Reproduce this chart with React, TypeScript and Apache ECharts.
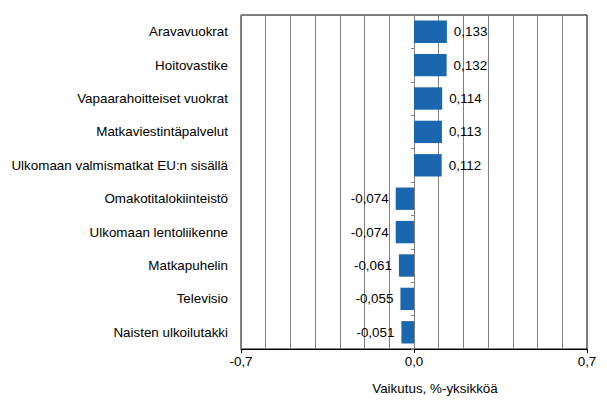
import React, { useEffect, useRef } from "react";
import * as echarts from "echarts";

const categories = [
  "Aravavuokrat",
  "Hoitovastike",
  "Vapaarahoitteiset vuokrat",
  "Matkaviestintäpalvelut",
  "Ulkomaan valmismatkat EU:n sisällä",
  "Omakotitalokiinteistö",
  "Ulkomaan lentoliikenne",
  "Matkapuhelin",
  "Televisio",
  "Naisten ulkoilutakki",
];
const values = [0.133, 0.132, 0.114, 0.113, 0.112, -0.074, -0.074, -0.061, -0.055, -0.051];
const axisMin = -0.7;
const axisMax = 0.7;
const axisTitle = "Vaikutus, %-yksikköä";

const fmt = (v: number, d: number) => v.toFixed(d).replace(".", ",");

export default function App() {
  const ref = useRef<HTMLDivElement>(null);
  useEffect(() => {
    if (!ref.current) return;
    const chart = echarts.init(ref.current, null, { renderer: "svg" });
    const font = { fontFamily: "Arial, 'Liberation Sans', sans-serif", fontSize: 13.4, color: "#000" };
    chart.setOption({
      animation: false,
      grid: { left: 241, right: 20, top: 15, bottom: 69, show: true, borderColor: "#000", borderWidth: 1, backgroundColor: "transparent" },
      xAxis: [
        {
          type: "value",
          min: axisMin,
          max: axisMax,
          interval: 0.1,
          axisLine: { show: false },
          axisTick: { show: false },
          axisLabel: { show: false },
          splitLine: { show: true, lineStyle: { color: "#808080", width: 1 } },
        },
        {
          type: "value",
          min: axisMin,
          max: axisMax,
          interval: 0.7,
          position: "bottom",
          axisLine: { show: true, onZero: false, lineStyle: { color: "#000" } },
          axisTick: { show: true, length: 4, lineStyle: { color: "#000" } },
          axisLabel: { ...font, margin: 6, formatter: (v: number) => fmt(v, 1) },
          splitLine: { show: false },
          name: axisTitle,
          nameLocation: "middle",
          nameGap: 33,
          nameTextStyle: { ...font, padding: [0, 0, 0, 42] },
        },
      ],
      yAxis: [
        {
          type: "category",
          data: categories,
          inverse: true,
          axisLine: { show: false, onZero: false },
          axisTick: { show: false },
          axisLabel: { ...font, margin: 13 },
          splitLine: { show: false },
        },
        {
          type: "category",
          data: categories,
          inverse: true,
          position: "left",
          axisLine: { show: true, onZero: true, onZeroAxisIndex: 0, lineStyle: { color: "#808080" } },
          axisTick: { show: true, length: 3, lineStyle: { color: "#808080" } },
          axisLabel: { show: false },
          splitLine: { show: false },
        },
      ],
      series: [
        {
          type: "bar",
          xAxisIndex: 0,
          yAxisIndex: 0,
          data: values.map((v) => ({
            value: v,
            label: { position: v < 0 ? "left" : "right" },
          })),
          barWidth: "67%",
          itemStyle: { color: "#1A67B0" },
          label: {
            show: true,
            ...font,
            distance: 7,
            formatter: (p: any) => fmt(p.value, 3),
          },
        },
      ],
    });
    return () => chart.dispose();
  }, []);
  return <div ref={ref} style={{ width: 607, height: 418, marginLeft: -8, marginTop: -8 }} />;
}
